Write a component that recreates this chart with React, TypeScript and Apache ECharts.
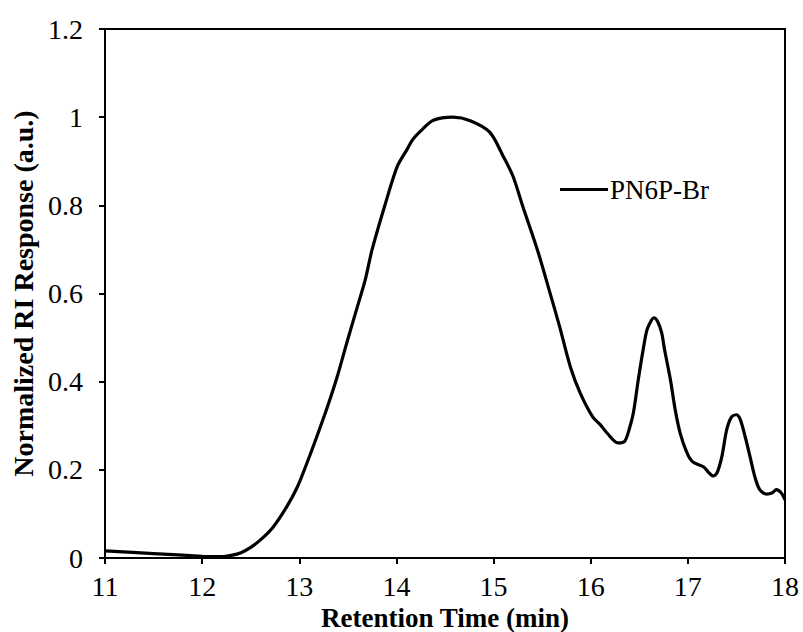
import React, { useEffect, useRef } from "react";
import * as echarts from "echarts";

const seriesName = "PN6P-Br";
const retentionTime = [
  11.0, 11.5, 12.0, 12.2, 12.3, 12.4, 12.5, 12.6, 12.73, 12.87, 12.98, 13.08, 13.18, 13.29,
  13.39, 13.49, 13.59, 13.68, 13.75, 13.9, 14.01, 14.11, 14.17, 14.27, 14.38, 14.58, 14.76,
  14.96, 15.1, 15.2, 15.3, 15.45, 15.58, 15.68, 15.79, 15.89, 16.02, 16.1, 16.17, 16.28, 16.35,
  16.4, 16.44, 16.49, 16.54, 16.58, 16.63, 16.65, 16.69, 16.73, 16.76, 16.82, 16.87, 16.92,
  16.99, 17.05, 17.16, 17.21, 17.26, 17.3, 17.35, 17.4, 17.45, 17.5, 17.54, 17.59, 17.64,
  17.69, 17.74, 17.81, 17.87, 17.91, 17.96, 18.0,
];
const riResponse = [
  0.016, 0.01, 0.004, 0.003, 0.006, 0.012, 0.024, 0.041, 0.07, 0.116, 0.161, 0.216, 0.275,
  0.343, 0.411, 0.489, 0.564, 0.632, 0.7, 0.814, 0.889, 0.927, 0.95, 0.973, 0.993, 1.0, 0.992,
  0.966, 0.911, 0.866, 0.798, 0.7, 0.602, 0.525, 0.434, 0.375, 0.32, 0.302, 0.283, 0.261, 0.265,
  0.295, 0.33, 0.405, 0.473, 0.518, 0.541, 0.545, 0.536, 0.511, 0.473, 0.405, 0.336, 0.284,
  0.239, 0.218, 0.207, 0.195, 0.186, 0.193, 0.23, 0.291, 0.32, 0.325, 0.314, 0.275, 0.23,
  0.184, 0.155, 0.145, 0.148, 0.155, 0.148, 0.132,
];
const xTicks = { min: 11, max: 18, interval: 1 };
const yTicks = { min: 0, max: 1.2, interval: 0.2 };

const FONT = "'Liberation Serif', 'Times New Roman', serif";

export default function App() {
  const ref = useRef<HTMLDivElement>(null);
  useEffect(() => {
    if (!ref.current) return;
    const chart = echarts.init(ref.current, null, { renderer: "svg" });
    const data = retentionTime.map((t, i) => [t, riResponse[i]]);
    chart.setOption({
      animation: false,
      backgroundColor: "#fff",
      grid: {
        left: 105,
        right: 18,
        top: 29,
        bottom: 74,
        outerBoundsMode: "none",
        containLabel: false,
        show: true,
        borderColor: "#000",
        borderWidth: 2,
      },
      legend: {
        left: 560,
        top: 176,
        padding: 0,
        itemWidth: 48,
        itemHeight: 3,
        itemGap: 4,
        icon: "rect",
        data: [{ name: seriesName, itemStyle: { color: "#000" } }],
        textStyle: { fontFamily: FONT, fontSize: 27, color: "#000", padding: [0, 0, 0, -3] },
      },
      xAxis: {
        type: "value",
        min: xTicks.min,
        max: xTicks.max,
        interval: xTicks.interval,
        name: "Retention Time (min)",
        nameLocation: "middle",
        nameGap: 38,
        nameTextStyle: { fontFamily: FONT, fontSize: 27, fontWeight: "bold", color: "#000" },
        axisLine: { show: true, lineStyle: { color: "#000", width: 2 } },
        axisTick: { show: true, length: 6, lineStyle: { color: "#000", width: 2 } },
        axisLabel: { fontFamily: FONT, fontSize: 28, color: "#000", margin: 14 },
        splitLine: { show: false },
      },
      yAxis: {
        type: "value",
        min: yTicks.min,
        max: yTicks.max,
        interval: yTicks.interval,
        name: "Normalized RI Response (a.u.)",
        nameLocation: "middle",
        nameGap: 63,
        nameTextStyle: { fontFamily: FONT, fontSize: 28, fontWeight: "bold", color: "#000" },
        axisLine: { show: true, lineStyle: { color: "#000", width: 2 } },
        axisTick: { show: true, length: 6, lineStyle: { color: "#000", width: 2 } },
        axisLabel: { fontFamily: FONT, fontSize: 28, color: "#000", margin: 22 },
        splitLine: { show: false },
      },
      series: [
        {
          name: seriesName,
          type: "line",
          data,
          smooth: 0.3,
          showSymbol: false,
          lineStyle: { color: "#000", width: 3.2 },
          itemStyle: { color: "#000" },
        },
      ],
    });
    return () => chart.dispose();
  }, []);
  return (
    <div
      ref={ref}
      style={{ position: "fixed", left: 0, top: 0, width: 803, height: 632, background: "#fff" }}
    />
  );
}
